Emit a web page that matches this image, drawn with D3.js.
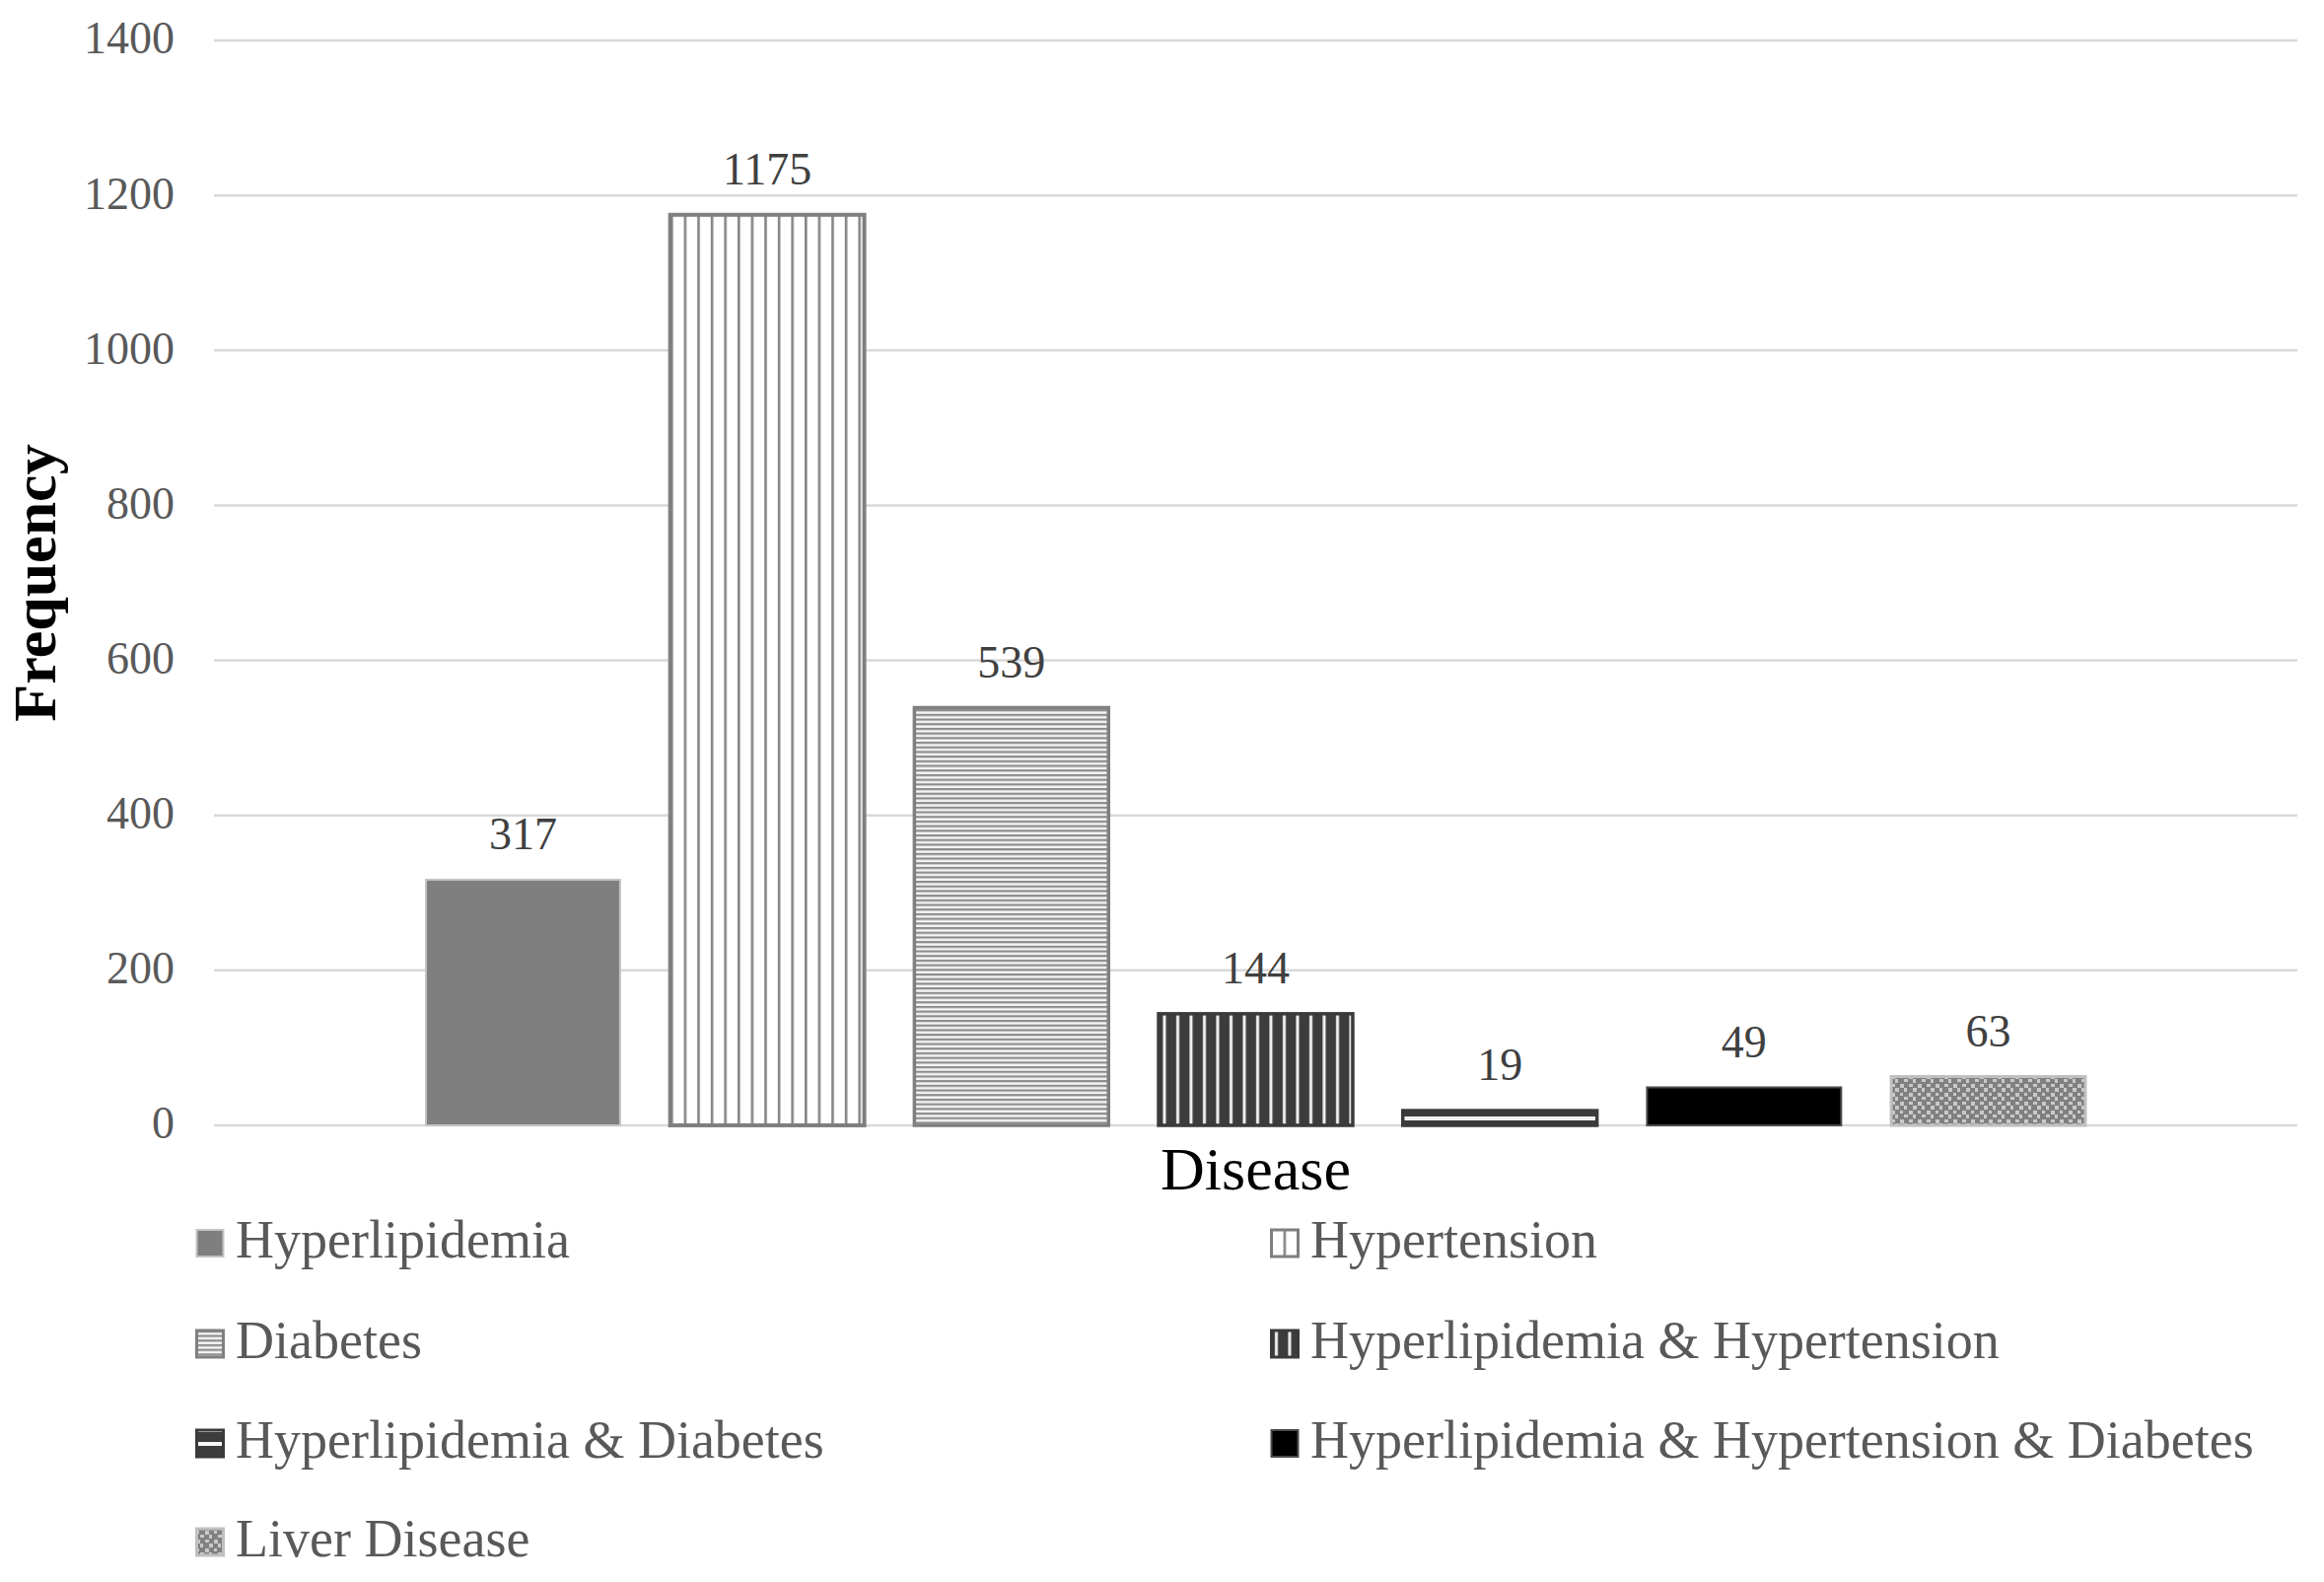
<!DOCTYPE html>
<html>
<head>
<meta charset="utf-8">
<script src="https://cdn.jsdelivr.net/npm/d3@7"></script>
<style>
  html, body { margin: 0; padding: 0; background: #fff; }
  svg { display: block; }
</style>
</head>
<body>
<svg id="chart" width="2357" height="1604"></svg>
<script>
// ---- data ----
const series = [
  "Hyperlipidemia",
  "Hypertension",
  "Diabetes",
  "Hyperlipidemia & Hypertension",
  "Hyperlipidemia & Diabetes",
  "Hyperlipidemia & Hypertension & Diabetes",
  "Liver Disease"
];
const values = [317, 1175, 539, 144, 19, 49, 63];
const yTicks = [0, 200, 400, 600, 800, 1000, 1200, 1400];
const xTitle = "Disease";
const yTitle = "Frequency";

// ---- layout ----
const W = 2357, H = 1604;
const plot = { left: 217, right: 2330, top: 41, bottom: 1141 };
const FONT = "'Liberation Serif', 'Times New Roman', serif";

const svg = d3.select("#chart");
const defs = svg.append("defs");

const y = d3.scaleLinear().domain([0, 1400]).range([plot.bottom, plot.top]);
const x = d3.scaleBand().domain(series)
  .range([plot.left, plot.right])
  .paddingInner(0.205)
  .paddingOuter(0.868);

// ---- patterns ----
function pat(id, w, h, build, py) {
  const p = defs.append("pattern").attr("id", id)
    .attr("patternUnits", "userSpaceOnUse")
    .attr("width", w).attr("height", h)
    .attr("x", 0).attr("y", py || 0);
  build(p);
  return "url(#" + id + ")";
}
const fills = {};
const strokes = {};
const strokeW = {};

fills["Hyperlipidemia"] = "#7f7f7f";
strokes["Hyperlipidemia"] = "#c4c4c4"; strokeW["Hyperlipidemia"] = 2;

fills["Hypertension"] = pat("pHT", 13.6, 10, p => {
  p.append("rect").attr("width", 13.6).attr("height", 10).attr("fill", "#fff");
  p.append("rect").attr("x", 0).attr("width", 2.6).attr("height", 10).attr("fill", "#858585");
});
strokes["Hypertension"] = "#7f7f7f"; strokeW["Hypertension"] = 4;

fills["Diabetes"] = pat("pDB", 10, 4.7, p => {
  p.append("rect").attr("width", 10).attr("height", 4.7).attr("fill", "#f4f4f4");
  p.append("rect").attr("y", 0).attr("width", 10).attr("height", 2.2).attr("fill", "#8c8c8c");
});
strokes["Diabetes"] = "#7f7f7f"; strokeW["Diabetes"] = 3.5;

fills["Hyperlipidemia & Hypertension"] = pat("pHH", 13.5, 10, p => {
  p.append("rect").attr("width", 13.5).attr("height", 10).attr("fill", "#3c3c3c");
  p.append("rect").attr("x", 5).attr("width", 3).attr("height", 10).attr("fill", "#f2f2f2");
});
strokes["Hyperlipidemia & Hypertension"] = "#3a3a3a"; strokeW["Hyperlipidemia & Hypertension"] = 3.5;

fills["Hyperlipidemia & Diabetes"] = pat("pHD", 10, 14, p => {
  p.append("rect").attr("width", 10).attr("height", 14).attr("fill", "#3c3c3c");
  p.append("rect").attr("y", 5).attr("width", 10).attr("height", 4).attr("fill", "#f6f6f6");
}, plot.bottom - 14);
strokes["Hyperlipidemia & Diabetes"] = "#3a3a3a"; strokeW["Hyperlipidemia & Diabetes"] = 3.5;

fills["Hyperlipidemia & Hypertension & Diabetes"] = "#000";
strokes["Hyperlipidemia & Hypertension & Diabetes"] = "#4a4a4a"; strokeW["Hyperlipidemia & Hypertension & Diabetes"] = 2;

fills["Liver Disease"] = pat("pLV", 18, 18, p => {
  p.append("rect").attr("width", 18).attr("height", 18).attr("fill", "#808080");
  const sq = [[1,1],[10,1],[5,5],[14,5],[1,10],[10,10],[5,14],[14,14]];
  const sz = [[4,4],[4,3],[3,4],[4,4],[3,3],[4,4],[4,3],[3,4]];
  sq.forEach((s, i) => p.append("rect").attr("x", s[0]).attr("y", s[1])
    .attr("width", sz[i][0]).attr("height", sz[i][1]).attr("fill", "#c9c9c9"));
});
strokes["Liver Disease"] = "#c0c0c0"; strokeW["Liver Disease"] = 3;

// ---- gridlines ----
svg.append("g").selectAll("line").data(yTicks).join("line")
  .attr("x1", plot.left).attr("x2", plot.right)
  .attr("y1", d => y(d)).attr("y2", d => y(d))
  .attr("stroke", "#d9d9d9").attr("stroke-width", 2.5);

// ---- y axis labels ----
const yAxis = d3.axisLeft(y).tickValues(yTicks).tickSize(0).tickPadding(40).tickFormat(d3.format("d"));
const gy = svg.append("g").attr("transform", `translate(${plot.left},0)`).call(yAxis);
gy.select(".domain").remove();
gy.selectAll("text")
  .attr("font-family", FONT).attr("font-size", 46).attr("fill", "#595959")
  .attr("dy", "0.28em");

// ---- bars ----
svg.append("g").selectAll("rect").data(series).join("rect")
  .attr("x", d => x(d)).attr("width", x.bandwidth())
  .attr("y", (d, i) => y(values[i])).attr("height", (d, i) => y(0) - y(values[i]))
  .attr("fill", d => fills[d])
  .attr("stroke", d => strokes[d]).attr("stroke-width", d => strokeW[d]);

// ---- data labels ----
svg.append("g").selectAll("text").data(series).join("text")
  .attr("x", d => x(d) + x.bandwidth() / 2)
  .attr("y", (d, i) => y(values[i]) - 31)
  .attr("text-anchor", "middle")
  .attr("font-family", FONT).attr("font-size", 46).attr("fill", "#404040")
  .text((d, i) => values[i]);

// ---- axis titles ----
svg.append("text")
  .attr("x", (plot.left + plot.right) / 2).attr("y", 1206)
  .attr("text-anchor", "middle")
  .attr("font-family", FONT).attr("font-size", 62).attr("fill", "#000")
  .text(xTitle);

svg.append("text")
  .attr("transform", `translate(56, ${(plot.top + plot.bottom) / 2}) rotate(-90)`)
  .attr("text-anchor", "middle")
  .attr("font-family", FONT).attr("font-size", 62).attr("font-weight", "bold").attr("fill", "#000")
  .text(yTitle);

// ---- legend ----
const colX = [198, 1288];
const rowY = [1275, 1377, 1478, 1578];
const lg = svg.append("g").selectAll("g").data(series).join("g")
  .attr("transform", (d, i) => `translate(${colX[i % 2]}, ${rowY[Math.floor(i / 2)]})`);
lg.append("rect")
  .attr("x", 1.5).attr("y", -28).attr("width", 27).attr("height", 27)
  .attr("fill", d => fills[d])
  .attr("stroke", d => strokes[d]).attr("stroke-width", d => Math.min(strokeW[d], 3));
lg.append("text")
  .attr("x", 41).attr("y", 0)
  .attr("font-family", FONT).attr("font-size", 54).attr("fill", "#595959")
  .text(d => d);
</script>
</body>
</html>
